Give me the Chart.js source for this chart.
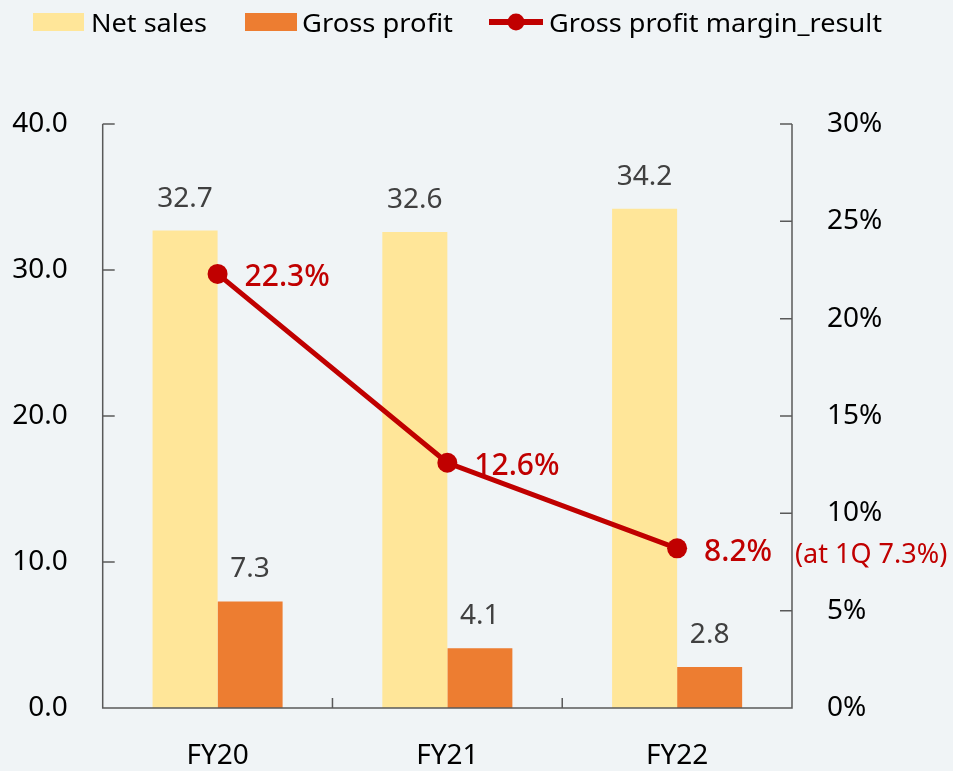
<!DOCTYPE html>
<html>
<head>
<meta charset="utf-8">
<script src="https://cdn.jsdelivr.net/npm/chart.js@4.4.1/dist/chart.umd.min.js"></script>
<style>
  html, body { margin: 0; padding: 0; background: #f0f4f6; }
  #wrap { width: 953px; height: 771px; position: relative; }
</style>
</head>
<body>
<div id="wrap"><canvas id="c" width="953" height="771"></canvas></div>
<script>
const categories = ['FY20', 'FY21', 'FY22'];
const netSales = [32.7, 32.6, 34.2];
const grossProfit = [7.3, 4.1, 2.8];
const marginPct = [22.3, 12.6, 8.2];
const seriesNames = ['Net sales', 'Gross profit', 'Gross profit margin_result'];
const leftTicks = [0, 10, 20, 30, 40];
const rightTicks = [0, 5, 10, 15, 20, 25, 30];
const noteText = '(at 1Q 7.3%)';

const FONT = '"Noto Sans", "Open Sans", sans-serif';
const C_NET = '#ffe699', C_GROSS = '#ed7d31', C_LINE = '#c00000';
const C_AXIS = '#595959';

const bgPlugin = {
  id: 'bg',
  beforeDraw(chart) {
    const ctx = chart.ctx;
    ctx.save();
    ctx.fillStyle = '#f0f4f6';
    ctx.fillRect(0, 0, chart.width, chart.height);
    ctx.restore();
  }
};

const decorPlugin = {
  id: 'decor',
  afterDatasetsDraw(chart) {
    const ctx = chart.ctx;
    const area = chart.chartArea;
    const x = chart.scales.x, y = chart.scales.y, y1 = chart.scales.y1;
    ctx.save();
    // axes
    ctx.strokeStyle = C_AXIS;
    ctx.lineWidth = 1.5;
    ctx.beginPath();
    ctx.moveTo(area.left, area.top); ctx.lineTo(area.left, area.bottom);
    ctx.lineTo(area.right, area.bottom); ctx.lineTo(area.right, area.top);
    leftTicks.forEach(v => { const py = y.getPixelForValue(v); ctx.moveTo(area.left, py); ctx.lineTo(area.left + 12, py); });
    rightTicks.forEach(v => { const py = y1.getPixelForValue(v); ctx.moveTo(area.right, py); ctx.lineTo(area.right - 12, py); });
    for (let i = 0; i < categories.length - 1; i++) {
      const px = (x.getPixelForValue(i) + x.getPixelForValue(i + 1)) / 2;
      ctx.moveTo(px, area.bottom); ctx.lineTo(px, area.bottom - 10);
    }
    ctx.stroke();

    // bar value labels
    ctx.fillStyle = '#404040';
    ctx.font = '28px ' + FONT;
    ctx.textAlign = 'center';
    ctx.textBaseline = 'alphabetic';
    [0, 1].forEach(di => {
      const meta = chart.getDatasetMeta(di);
      const data = chart.data.datasets[di].data;
      meta.data.forEach((bar, i) => {
        ctx.fillText(data[i].toFixed(1), bar.x, bar.y - 24);
      });
    });

    // line labels
    const lm = chart.getDatasetMeta(2);
    ctx.fillStyle = C_LINE;
    ctx.font = '500 30px ' + FONT;
    ctx.textAlign = 'left';
    ctx.textBaseline = 'middle';
    lm.data.forEach((pt, i) => {
      ctx.fillText(marginPct[i].toFixed(1) + '%', pt.x + 27, pt.y + 4);
    });
    const last = lm.data[lm.data.length - 1];
    ctx.font = '27px ' + FONT;
    ctx.fillText(noteText, area.right + 3, last.y + 7);

    // legend
    const items = [
      { type: 'box', color: C_NET, x0: 33, x1: 84, tx: 91, tw: 116 },
      { type: 'box', color: C_GROSS, x0: 245, x1: 297, tx: 302, tw: 151 },
      { type: 'line', color: C_LINE, x0: 489, x1: 543, tx: 549, tw: 333 }
    ];
    items.forEach((it, i) => {
      if (it.type === 'box') {
        ctx.fillStyle = it.color;
        ctx.fillRect(it.x0, 13, it.x1 - it.x0, 18);
      } else {
        ctx.strokeStyle = it.color;
        ctx.lineWidth = 6;
        ctx.beginPath(); ctx.moveTo(it.x0, 22); ctx.lineTo(it.x1, 22); ctx.stroke();
        ctx.fillStyle = it.color;
        ctx.beginPath(); ctx.arc((it.x0 + it.x1) / 2, 22, 8.5, 0, Math.PI * 2); ctx.fill();
      }
      ctx.fillStyle = '#000';
      ctx.font = '26px ' + FONT;
      ctx.textAlign = 'left';
      ctx.textBaseline = 'alphabetic';
      const w = ctx.measureText(seriesNames[i]).width;
      const sx = it.tw / w;
      ctx.save();
      ctx.translate(it.tx, 32);
      ctx.scale(sx, 1);
      ctx.fillText(seriesNames[i], 0, 0);
      ctx.restore();
    });
    ctx.restore();
  }
};

new Chart(document.getElementById('c'), {
  type: 'bar',
  data: {
    labels: categories,
    datasets: [
      { label: seriesNames[0], data: netSales, backgroundColor: C_NET, yAxisID: 'y', order: 2,
        categoryPercentage: 0.566, barPercentage: 1 },
      { label: seriesNames[1], data: grossProfit, backgroundColor: C_GROSS, yAxisID: 'y', order: 2,
        categoryPercentage: 0.566, barPercentage: 1 },
      { type: 'line', label: seriesNames[2], data: marginPct, yAxisID: 'y1', order: 0,
        borderColor: C_LINE, backgroundColor: C_LINE, borderWidth: 5,
        pointRadius: 10, pointBackgroundColor: C_LINE, pointBorderWidth: 0, tension: 0 }
    ]
  },
  options: {
    responsive: false,
    animation: false,
    layout: { padding: { top: 124, left: 0, right: 0, bottom: 0 } },
    plugins: { legend: { display: false }, tooltip: { enabled: false } },
    scales: {
      x: {
        grid: { display: false, drawTicks: false },
        border: { display: false },
        ticks: { color: '#000', font: { family: FONT, size: 28 }, padding: 31 },
        afterFit(s) { s.height = 63; }
      },
      y: {
        position: 'left', min: 0, max: 40,
        afterBuildTicks(s) { s.ticks = leftTicks.map(v => ({ value: v })); },
        grid: { display: false, drawTicks: false },
        border: { display: false },
        ticks: { color: '#000', font: { family: FONT, size: 28 }, padding: 35,
          callback: v => Number(v).toFixed(1) },
        afterFit(s) { s.width = 102.7; }
      },
      y1: {
        position: 'right', min: 0, max: 30,
        afterBuildTicks(s) { s.ticks = rightTicks.map(v => ({ value: v })); },
        grid: { display: false, drawTicks: false },
        border: { display: false },
        ticks: { color: '#000', font: { family: FONT, size: 28 }, padding: 35,
          callback: v => v + '%' },
        afterFit(s) { s.width = 161; }
      }
    }
  },
  plugins: [bgPlugin, decorPlugin]
});
</script>
</body>
</html>
